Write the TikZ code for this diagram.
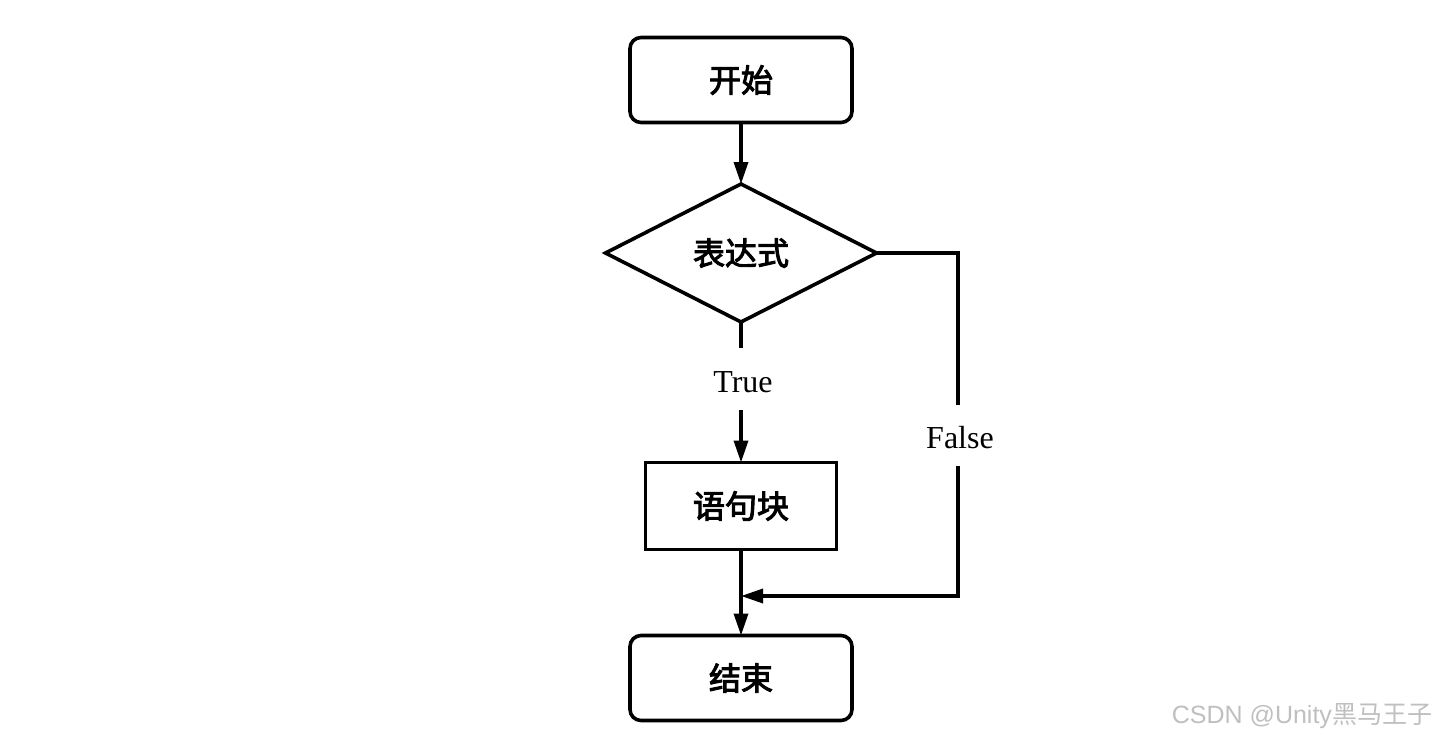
\documentclass[tikz,border=0pt]{standalone}
\usepackage{fontspec}
\setmainfont{Liberation Serif}
\newfontfamily\cjk{Noto Sans CJK SC}
\newfontfamily\cjkmid{Noto Sans CJK SC}[FakeBold=3]
\newfontfamily\wmfont{Liberation Sans}
\usetikzlibrary{shapes.geometric,arrows.meta}
\begin{document}
\begin{tikzpicture}[x=1pt,y=-1pt,
  every node/.style={inner sep=0pt, outer sep=0pt},
  cjkfont/.style={font=\cjkmid\fontsize{32}{32}\selectfont},
  termbox/.style={draw, line width=3.6pt, rounded corners=11pt, minimum width=222pt, minimum height=85pt, cjkfont},
  procbox/.style={draw, line width=3.6pt, minimum width=191pt, minimum height=87pt, cjkfont},
  decbox/.style={draw, diamond, line width=3.6pt, minimum width=271pt, minimum height=138pt, cjkfont},
  lbl/.style={font=\fontsize{32}{32}\selectfont},
  conn/.style={line width=3.4pt},
  arr/.style={line width=3.4pt, -{Triangle[length=22pt,width=14pt]}},
  wm/.style={font=\wmfont\fontsize{25}{25}\selectfont, text=black!25, anchor=east}
]
\useasboundingbox (0,0) rectangle (1436,742);
\node[termbox] (start) at (741,80) {开始};
\node[decbox] (cond) at (741,253) {表达式};
\node[procbox] (body) at (741,506) {语句块};
\node[termbox] (stop) at (741,678) {结束};
\node[lbl] (truelbl) at (743,382) {True};
\node[lbl] (falselbl) at (960,438) {False};
\coordinate (t1) at (741,348);
\coordinate (t2) at (741,410);
\coordinate (f1) at (958,253);
\coordinate (f2) at (958,405);
\coordinate (f3) at (958,466);
\coordinate (f4) at (958,596);
\coordinate (j) at (741,596);
\draw[arr] (start) -- (cond);
\draw[conn] (cond.south) -- (t1);
\draw[arr] (t2) -- (body.north);
\draw[conn] (cond.east) -- (f1) -- (f2);
\draw[arr] (f3) -- (f4) -- (j);
\draw[arr] (body.south) -- (stop.north);
\node[wm] (mark) at (1432,716) {CSDN @Unity{\cjk 黑马王子}};
\end{tikzpicture}
\end{document}
